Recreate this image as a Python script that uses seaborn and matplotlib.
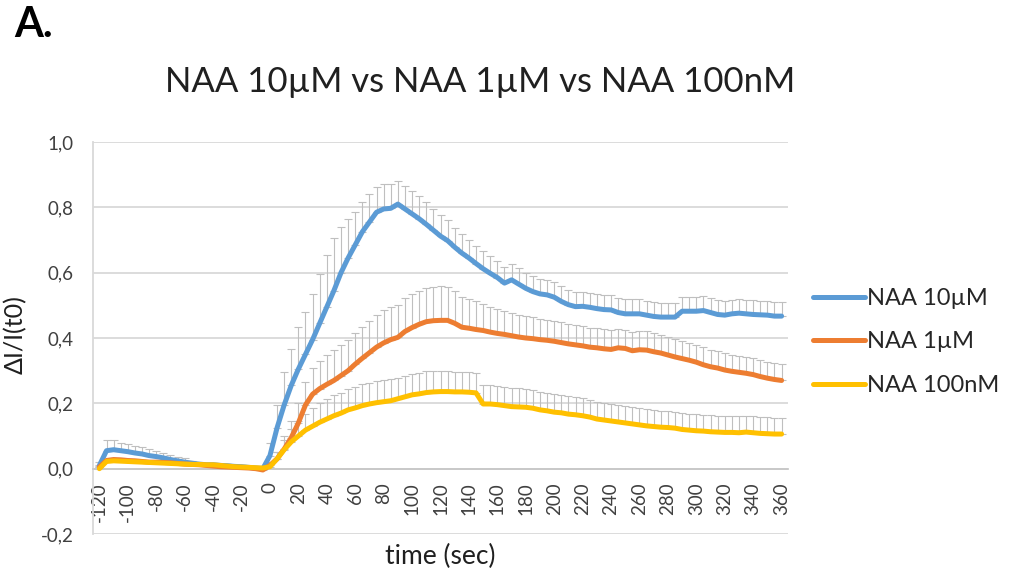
import numpy as np
import pandas as pd
import matplotlib
matplotlib.use("Agg")
import matplotlib.pyplot as plt
import seaborn as sns

# time points (sec), one every 5 s
time = np.arange(-120, 361, 5)

naa_10uM = [
    0.010, 0.055, 0.058, 0.055, 0.052, 0.048, 0.045, 0.040, 0.037, 0.033,
    0.028, 0.024, 0.020, 0.017, 0.014, 0.012, 0.012, 0.010, 0.009, 0.007,
    0.006, 0.004, 0.002, 0.000, 0.040, 0.125, 0.195, 0.255, 0.305, 0.350,
    0.395, 0.445, 0.495, 0.545, 0.600, 0.645, 0.685, 0.725, 0.755, 0.785,
    0.795, 0.797, 0.810, 0.795, 0.780, 0.765, 0.748, 0.730, 0.712, 0.698,
    0.678, 0.660, 0.645, 0.628, 0.612, 0.598, 0.585, 0.568, 0.578, 0.565,
    0.552, 0.542, 0.535, 0.532, 0.525, 0.512, 0.502, 0.496, 0.497, 0.494,
    0.490, 0.487, 0.486, 0.478, 0.474, 0.474, 0.474, 0.470, 0.466, 0.464,
    0.464, 0.464, 0.482, 0.482, 0.482, 0.484, 0.478, 0.472, 0.470, 0.474,
    0.476, 0.474, 0.472, 0.471, 0.470, 0.467, 0.467,
]
naa_1uM = [
    0.005, 0.025, 0.028, 0.027, 0.025, 0.024, 0.022, 0.020, 0.020, 0.019,
    0.018, 0.016, 0.014, 0.013, 0.012, 0.010, 0.008, 0.006, 0.005, 0.004,
    0.003, 0.002, 0.000, -0.004, 0.010, 0.030, 0.060, 0.095, 0.140, 0.195,
    0.228, 0.245, 0.258, 0.270, 0.285, 0.300, 0.320, 0.338, 0.355, 0.372,
    0.385, 0.395, 0.402, 0.420, 0.432, 0.442, 0.450, 0.453, 0.454, 0.454,
    0.445, 0.433, 0.430, 0.426, 0.423, 0.418, 0.414, 0.411, 0.407, 0.403,
    0.400, 0.398, 0.395, 0.393, 0.390, 0.386, 0.382, 0.379, 0.376, 0.372,
    0.370, 0.367, 0.365, 0.370, 0.368, 0.361, 0.364, 0.363, 0.358, 0.354,
    0.348, 0.342, 0.337, 0.332, 0.326, 0.318, 0.312, 0.308, 0.302, 0.298,
    0.295, 0.292, 0.288, 0.282, 0.277, 0.273, 0.270,
]
naa_100nM = [
    0.000, 0.022, 0.024, 0.023, 0.022, 0.021, 0.020, 0.019, 0.018, 0.017,
    0.016, 0.015, 0.014, 0.013, 0.013, 0.012, 0.012, 0.010, 0.008, 0.006,
    0.005, 0.004, 0.003, 0.002, 0.006, 0.030, 0.058, 0.082, 0.100, 0.118,
    0.130, 0.142, 0.152, 0.162, 0.170, 0.180, 0.186, 0.193, 0.198, 0.202,
    0.205, 0.208, 0.214, 0.220, 0.226, 0.229, 0.233, 0.235, 0.236, 0.236,
    0.235, 0.235, 0.234, 0.232, 0.198, 0.198, 0.196, 0.193, 0.190, 0.189,
    0.188, 0.185, 0.180, 0.177, 0.173, 0.171, 0.167, 0.165, 0.162, 0.158,
    0.152, 0.149, 0.146, 0.143, 0.140, 0.137, 0.134, 0.131, 0.129, 0.127,
    0.126, 0.124, 0.120, 0.118, 0.116, 0.115, 0.113, 0.112, 0.111, 0.111,
    0.110, 0.112, 0.110, 0.108, 0.107, 0.106, 0.106,
]

# upper error bars (SEM)
err_10uM = [
    0.010, 0.034, 0.030, 0.025, 0.024, 0.022, 0.020, 0.020, 0.018, 0.016,
    0.015, 0.013, 0.012, 0.008, 0.006, 0.005, 0.005, 0.004, 0.004, 0.004,
    0.004, 0.004, 0.004, 0.005, 0.040, 0.070, 0.100, 0.110, 0.130, 0.130,
    0.140, 0.150, 0.160, 0.160, 0.140, 0.120, 0.100, 0.090, 0.085, 0.078,
    0.075, 0.073, 0.072, 0.070, 0.070, 0.070, 0.068, 0.066, 0.064, 0.062,
    0.060, 0.058, 0.056, 0.055, 0.054, 0.052, 0.050, 0.050, 0.050, 0.049,
    0.048, 0.048, 0.047, 0.047, 0.046, 0.046, 0.045, 0.045, 0.045, 0.045,
    0.045, 0.045, 0.045, 0.045, 0.045, 0.044, 0.044, 0.044, 0.044, 0.044,
    0.044, 0.044, 0.044, 0.044, 0.044, 0.044, 0.043, 0.043, 0.043, 0.043,
    0.043, 0.043, 0.043, 0.043, 0.043, 0.043, 0.043,
]
err_1uM = [
    0.004, 0.005, 0.005, 0.005, 0.005, 0.005, 0.005, 0.005, 0.005, 0.005,
    0.005, 0.005, 0.005, 0.005, 0.005, 0.005, 0.005, 0.005, 0.005, 0.005,
    0.005, 0.005, 0.005, 0.005, 0.010, 0.020, 0.040, 0.050, 0.060, 0.070,
    0.080, 0.085, 0.090, 0.092, 0.094, 0.095, 0.096, 0.097, 0.098, 0.099,
    0.100, 0.100, 0.100, 0.101, 0.102, 0.103, 0.104, 0.104, 0.104, 0.102,
    0.098, 0.094, 0.090, 0.086, 0.082, 0.078, 0.075, 0.072, 0.070, 0.068,
    0.066, 0.065, 0.064, 0.063, 0.062, 0.062, 0.061, 0.061, 0.060, 0.060,
    0.060, 0.060, 0.059, 0.059, 0.058, 0.058, 0.057, 0.057, 0.056, 0.056,
    0.055, 0.055, 0.054, 0.054, 0.053, 0.053, 0.052, 0.052, 0.052, 0.051,
    0.051, 0.051, 0.050, 0.050, 0.050, 0.050, 0.050,
]
err_100nM = [
    0.004, 0.005, 0.005, 0.005, 0.005, 0.005, 0.005, 0.005, 0.005, 0.005,
    0.005, 0.005, 0.005, 0.005, 0.005, 0.005, 0.005, 0.005, 0.005, 0.005,
    0.005, 0.005, 0.005, 0.005, 0.010, 0.020, 0.030, 0.038, 0.045, 0.050,
    0.055, 0.058, 0.060, 0.062, 0.063, 0.064, 0.065, 0.065, 0.065, 0.065,
    0.065, 0.065, 0.065, 0.065, 0.065, 0.065, 0.065, 0.065, 0.064, 0.063,
    0.062, 0.062, 0.061, 0.061, 0.058, 0.058, 0.058, 0.057, 0.057, 0.057,
    0.056, 0.056, 0.056, 0.055, 0.055, 0.055, 0.054, 0.054, 0.054, 0.053,
    0.053, 0.053, 0.052, 0.052, 0.052, 0.052, 0.051, 0.051, 0.051, 0.051,
    0.050, 0.050, 0.050, 0.050, 0.050, 0.050, 0.050, 0.050, 0.050, 0.050,
    0.050, 0.050, 0.050, 0.050, 0.050, 0.050, 0.050,
]

series_names = ["NAA 10µM", "NAA 1µM", "NAA 100nM"]
colors = ["#5B9BD5", "#ED7D31", "#FFC000"]
x_ticks = list(range(-120, 361, 20))
y_ticks = [-0.2, 0.0, 0.2, 0.4, 0.6, 0.8, 1.0]
y_tick_labels = ["-0,2", "0,0", "0,2", "0,4", "0,6", "0,8", "1,0"]

values = [naa_10uM, naa_1uM, naa_100nM]
errors = [err_10uM, err_1uM, err_100nM]

df = pd.concat(
    [pd.DataFrame({"time": time, "value": v, "err": e, "series": n})
     for n, v, e in zip(series_names, values, errors)],
    ignore_index=True,
)

sns.set_style("white")
plt.rcParams["font.family"] = ["Lato", "DejaVu Sans"]

fig = plt.figure(figsize=(10.09, 5.76), dpi=100)
ax = fig.add_axes([93 / 1009, 1 - 534 / 576, 695 / 1009, 392 / 576])

# error bars (upper only) behind the lines
for name, color in zip(series_names, colors):
    sub = df[df["series"] == name]
    ax.errorbar(sub["time"], sub["value"],
                yerr=[np.zeros(len(sub)), sub["err"]],
                fmt="none", ecolor="#BFBFBF", elinewidth=0.8,
                capsize=2.6, capthick=0.8, zorder=1)

sns.lineplot(data=df, x="time", y="value", hue="series",
             hue_order=series_names, palette=dict(zip(series_names, colors)),
             linewidth=3.6, errorbar=None, ax=ax, zorder=3)

# category axis crosses at 0 (set before tick styling, it resets ticks)
for side in ["top", "right"]:
    ax.spines[side].set_visible(False)
ax.spines["left"].set_color("#D9D9D9")
ax.spines["left"].set_linewidth(1.3)
ax.spines["bottom"].set_position(("data", 0))
ax.spines["bottom"].set_color("#C8C8C8")
ax.spines["bottom"].set_linewidth(1.3)

ax.set_xlim(-124.5, 364.5)
ax.set_ylim(-0.2, 1.0)
ax.set_yticks(y_ticks)
ax.set_yticklabels(y_tick_labels)
ax.set_xticks(x_ticks)
ax.set_xticklabels([str(t) for t in x_ticks])
ax.tick_params(axis="x", length=0, pad=10, labelsize=13.5, labelrotation=90,
               colors="#404040")
ax.tick_params(axis="y", length=0, pad=14, labelsize=13.5, colors="#404040")

ax.yaxis.grid(True, color="#D9D9D9", linewidth=1.3, zorder=0)
ax.set_axisbelow(True)

ax.set_xlabel("")
ax.set_ylabel("")
fig.text(440 / 1009, 1 - 556 / 576, "time (sec)", ha="center", va="center",
         fontsize=19, color="#202020")
fig.text(15 / 1009, 1 - 335 / 576, "ΔI/I(t0)", ha="center", va="center",
         rotation=90, fontsize=18, color="#202020")
fig.text(480 / 1009, 1 - 82 / 576, "NAA 10µM vs NAA 1µM vs NAA 100nM",
         ha="center", va="center", fontsize=25, color="#202020")
fig.text(14 / 1009, 1 - 37 / 576, "A.", ha="left", va="baseline",
         fontsize=30, fontweight="bold", color="black")

sns.move_legend(ax, "center left", bbox_to_anchor=(1.036, 0.49),
                frameon=False, title=None, fontsize=17,
                handlelength=2.2, handletextpad=0.1, labelspacing=0.95,
                borderpad=0, borderaxespad=0)

fig.savefig("out.png", dpi=100)
